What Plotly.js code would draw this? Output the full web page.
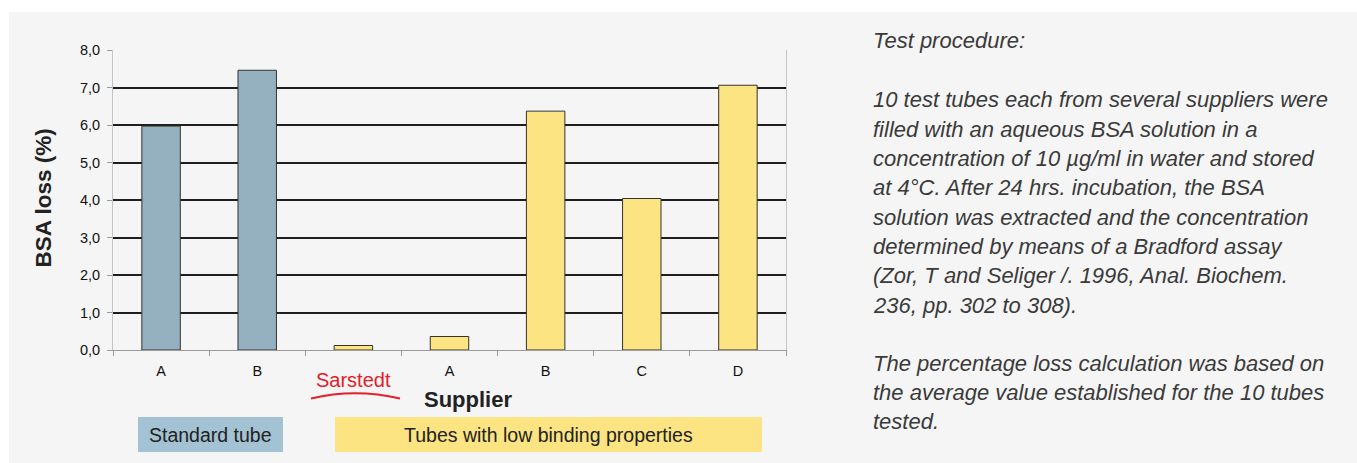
<!DOCTYPE html>
<html>
<head>
<meta charset="utf-8">
<script src="https://cdn.plot.ly/plotly-3.0.1.min.js"></script>
<style>html,body{margin:0;padding:0;background:#fff;}#chart{width:1357px;height:463px;}</style>
</head>
<body>
<div id="chart"></div>
<script>
// ---- data ----
const positions = [0, 1, 2, 3, 4, 5, 6];
const supplierLabels = ['A', 'B', '', 'A', 'B', 'C', 'D'];
const bsaLoss = [5.97, 7.46, 0.12, 0.36, 6.37, 4.04, 7.06];
const tubeGroup = ['standard', 'standard', 'low', 'low', 'low', 'low', 'low'];
const yTickVals = [0, 1, 2, 3, 4, 5, 6, 7, 8];
const categoryBounds = [-0.5, 0.5, 1.5, 2.5, 3.5, 4.5, 5.5, 6.5];
const sarstedtLabel = 'Sarstedt';
const legendStandard = 'Standard tube';
const legendLow = 'Tubes with low binding properties';
const procedureTitle = 'Test procedure:';
const procedurePara1 = [
  '10 test tubes each from several suppliers were',
  'filled with an aqueous BSA solution in a',
  'concentration of 10 µg/ml in water and stored',
  'at 4°C. After 24 hrs. incubation, the BSA',
  'solution was extracted and the concentration',
  'determined by means of a Bradford assay',
  '(Zor, T and Seliger /. 1996, Anal. Biochem.',
  '236, pp. 302 to 308).'
];
const procedurePara2 = [
  'The percentage loss calculation was based on',
  'the average value established for the 10 tubes',
  'tested.'
];

// ---- styling ----
const groupColor = {standard: '#95b0be', low: '#fbe481'};
const L = 113, T = 50, PW = 673, PH = 300; // plot area in px
const px = x => (x - L) / PW;
const py = y => (T + PH - y) / PH;
const FONT = 'Liberation Sans, Arial, sans-serif';

const trace = {
  type: 'bar',
  x: positions,
  y: bsaLoss,
  width: 0.4,
  marker: {color: tubeGroup.map(g => groupColor[g]), line: {color: '#333', width: 1}},
  hoverinfo: 'y'
};

const annotations = [];
function addLabel(text, xc, yc, size, color, extra) {
  annotations.push(Object.assign({xref: 'paper', yref: 'paper', x: px(xc), y: py(yc),
    xanchor: 'center', yanchor: 'middle', text: text, showarrow: false,
    font: {family: FONT, size: size, color: color}}, extra || {}));
}
addLabel(sarstedtLabel, 353.5, 380, 20, '#e3202a');
addLabel('<b>Supplier</b>', 467.5, 399, 22, '#222');
addLabel('<b>BSA loss (%)</b>', 42.5, 198, 22.5, '#222', {textangle: -90});
addLabel(legendStandard, 210.5, 435, 19.5, '#222');
addLabel(legendLow, 548.5, 435, 19.5, '#222');

const textFont = {family: FONT, size: 22, color: '#3a3a3a'};
function addLine(txt, yc) {
  annotations.push({xref: 'paper', yref: 'paper', x: px(871), y: py(yc), xanchor: 'left', yanchor: 'middle',
    text: '<i>' + txt + '</i>', showarrow: false, align: 'left', font: textFont});
}
addLine(procedureTitle, 41);
procedurePara1.forEach((t, i) => addLine(t, 100 + 29.3 * i));
procedurePara2.forEach((t, i) => addLine(t, 363 + 29.3 * i));

const shapes = [
  // grey panel
  {type: 'rect', xref: 'paper', yref: 'paper', x0: px(9), x1: px(1360), y0: py(466), y1: py(12),
   fillcolor: '#f5f5f5', line: {width: 0}, layer: 'below'},
  // legend boxes
  {type: 'rect', xref: 'paper', yref: 'paper', x0: px(138), x1: px(283), y0: py(452), y1: py(417),
   fillcolor: '#a3c2d3', line: {width: 0}, layer: 'below'},
  {type: 'rect', xref: 'paper', yref: 'paper', x0: px(335), x1: px(762), y0: py(452), y1: py(417),
   fillcolor: '#fbe481', line: {width: 0}, layer: 'below'},
  // Sarstedt swoosh
  {type: 'path', xref: 'paper', yref: 'paper',
   path: 'M ' + px(311) + ' ' + py(398.5) + ' Q ' + px(355) + ' ' + py(388) + ' ' + px(400) + ' ' + py(398.5),
   line: {color: '#e3202a', width: 1.8}}
];

const layout = {
  width: 1357, height: 463,
  margin: {l: L, r: 1357 - L - PW, t: T, b: 463 - T - PH, pad: 0},
  paper_bgcolor: '#ffffff',
  plot_bgcolor: 'rgba(0,0,0,0)',
  showlegend: false,
  font: {family: FONT, color: '#222'},
  xaxis: {
    range: [-0.5, 6.5], tickmode: 'array', tickvals: positions, ticktext: supplierLabels,
    ticks: '', showgrid: false, zeroline: false, showline: true, linecolor: '#9a9a9a', linewidth: 1,
    tickfont: {family: FONT, size: 14.5, color: '#111'}, ticklabelstandoff: 8,
    minor: {tickmode: 'array', tickvals: categoryBounds, ticks: 'outside', ticklen: 5, tickcolor: '#9a9a9a', tickwidth: 1, showgrid: false},
    fixedrange: true
  },
  yaxis: {
    range: [0, 8], tickmode: 'array', tickvals: yTickVals, tickformat: '.1f',
    ticks: 'outside', ticklen: 5, tickcolor: '#9a9a9a', tickwidth: 1,
    showgrid: true, gridcolor: '#1e1e1e', gridwidth: 2,
    zeroline: true, zerolinecolor: '#9a9a9a', zerolinewidth: 1,
    showline: true, mirror: true, linecolor: '#c4c4c4', linewidth: 1,
    tickfont: {family: FONT, size: 14.5, color: '#111'}, ticklabelstandoff: 4,
    fixedrange: true
  },
  separators: ',.',
  annotations: annotations,
  shapes: shapes,
  bargap: 0.6
};

Plotly.newPlot('chart', [trace], layout, {displayModeBar: false, staticPlot: true});
</script>
</body>
</html>
